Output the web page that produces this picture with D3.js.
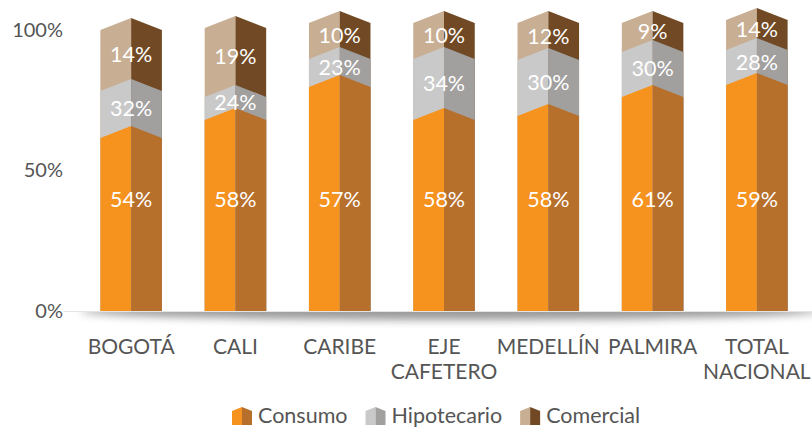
<!DOCTYPE html>
<html>
<head>
<meta charset="utf-8">
<script src="https://cdn.jsdelivr.net/npm/d3@7"></script>
<style>
  body { margin: 0; background: #fff; }
  svg text { font-family: Lato, "Open Sans", sans-serif; }
</style>
</head>
<body>
<div class="canvas"></div>
<script>
// regiones (eje x), con salto de linea
var regiones = [["BOGOTÁ"], ["CALI"], ["CARIBE"], ["EJE", "CAFETERO"], ["MEDELLÍN"], ["PALMIRA"], ["TOTAL", "NACIONAL"]];

// alto de cada tramo tal como se ve en el grafico (%)
var consumo     = [61.6, 68.0, 79.7, 68.0, 69.4, 76.2, 80.4];
var hipotecario = [16.7,  8.2, 10.0, 21.7, 19.9, 16.0, 12.5];
var comercial   = [21.7, 24.5, 12.8, 12.8, 13.2, 10.3, 10.7];

// etiquetas de datos que muestra el grafico
var etiConsumo     = ["54%", "58%", "57%", "58%", "58%", "61%", "59%"];
var etiHipotecario = ["32%", "24%", "23%", "34%", "30%", "30%", "28%"];
var etiComercial   = ["14%", "19%", "10%", "10%", "12%", "9%", "14%"];

// eje y
var yTicks = [0, 50, 100];
var yTickLabels = ["0%", "50%", "100%"];

var series = ["Consumo", "Hipotecario", "Comercial"];

var width = 812, height = 429;
var pico = 12; // altura del pico de cada tramo
var colores = {
  Consumo:     ["#f6921e", "#b76f2c"],
  Hipotecario: ["#c9c9c9", "#a1a09f"],
  Comercial:   ["#c8ae93", "#714a25"]
};

var svg = d3.select(".canvas").append("svg")
  .attr("width", width)
  .attr("height", height);

var x = d3.scaleBand()
  .domain(d3.range(regiones.length))
  .range([79, 809])
  .paddingInner(0.41)
  .paddingOuter(0.205);

var y = d3.scaleLinear()
  .domain([0, 100])
  .range([311, 30]);

// sombra del piso
var defs = svg.append("defs");
defs.append("filter").attr("id", "blur")
  .attr("x", "-20%").attr("y", "-200%").attr("width", "140%").attr("height", "500%")
  .append("feGaussianBlur").attr("stdDeviation", 4);
defs.append("clipPath").attr("id", "piso")
  .append("rect").attr("x", 0).attr("y", y(0)).attr("width", width).attr("height", 40);

svg.append("ellipse")
  .attr("cx", 450).attr("cy", y(0))
  .attr("rx", 370).attr("ry", 9)
  .attr("fill", "#707070")
  .attr("opacity", 0.7)
  .attr("filter", "url(#blur)")
  .attr("clip-path", "url(#piso)");

svg.append("line")
  .attr("x1", 64).attr("x2", width)
  .attr("y1", y(0) + 0.5).attr("y2", y(0) + 0.5)
  .attr("stroke", "#e4e4e4");

// eje y
var axisy = d3.axisLeft(y)
  .tickValues(yTicks)
  .tickSize(0)
  .tickPadding(0)
  .tickFormat(function(d, i) { return yTickLabels[i]; });

svg.append("g")
  .attr("transform", "translate(63,0)")
  .call(axisy)
  .call(function(g) { g.select(".domain").remove(); })
  .selectAll("text")
    .attr("font-family", "Lato, sans-serif")
    .attr("font-size", 20)
    .attr("fill", "#555");

// acumulados: cada capa va desde 0 hasta su tope
var capas = [
  { name: "Comercial",   top: consumo.map(function(v, i) { return v + hipotecario[i] + comercial[i]; }) },
  { name: "Hipotecario", top: consumo.map(function(v, i) { return v + hipotecario[i]; }) },
  { name: "Consumo",     top: consumo.slice() }
];

function caraIzq(i, t) {
  var x0 = x(i), xm = x(i) + x.bandwidth() / 2;
  return [[x0, y(0)], [xm, y(0)], [xm, y(t) - pico], [x0, y(t)]];
}
function caraDer(i, t) {
  var x1 = x(i) + x.bandwidth(), xm = x(i) + x.bandwidth() / 2;
  return [[xm, y(0)], [x1, y(0)], [x1, y(t)], [xm, y(t) - pico]];
}

capas.forEach(function(c) {
  var g = svg.append("g").attr("class", "capa-" + c.name);
  g.selectAll("polygon.izq")
    .data(c.top).enter()
    .append("polygon")
      .attr("points", function(d, i) { return caraIzq(i, d).join(" "); })
      .attr("fill", colores[c.name][0]);
  g.selectAll("polygon.der")
    .data(c.top).enter()
    .append("polygon")
      .attr("points", function(d, i) { return caraDer(i, d).join(" "); })
      .attr("fill", colores[c.name][1]);
});

// etiquetas de datos
var etiquetas = [];
consumo.forEach(function(v, i) {
  var h = v + hipotecario[i];
  var t = h + comercial[i];
  etiquetas.push({ i: i, t: etiConsumo[i], y: y(40) });
  etiquetas.push({ i: i, t: etiHipotecario[i], y: (y(v) + y(h)) / 2 - pico / 2 });
  etiquetas.push({ i: i, t: etiComercial[i], y: (y(h) + y(t)) / 2 - pico / 2 });
});

svg.selectAll("text.dato")
  .data(etiquetas).enter()
  .append("text")
    .attr("class", "dato")
    .attr("x", function(d) { return x(d.i) + x.bandwidth() / 2; })
    .attr("y", function(d) { return d.y; })
    .attr("text-anchor", "middle")
    .attr("dominant-baseline", "central")
    .attr("font-size", 21.5)
    .attr("fill", "#fff")
    .text(function(d) { return d.t; });

// eje x
var xl = svg.selectAll("text.region")
  .data(regiones).enter()
  .append("text")
    .attr("class", "region")
    .attr("text-anchor", "middle")
    .attr("font-size", 21)
    .attr("fill", "#555");
xl.selectAll("tspan")
  .data(function(d, i) { return d.map(function(s) { return { s: s, i: i }; }); })
  .enter().append("tspan")
    .attr("x", function(d) { return x(d.i) + x.bandwidth() / 2; })
    .attr("y", function(d, j) { return 354 + j * 25; })
    .text(function(d) { return d.s; });

// leyenda
var leyenda = svg.append("g").attr("transform", "translate(232,0)");
var lx = 0;
series.forEach(function(s) {
  var g = leyenda.append("g").attr("transform", "translate(" + lx + ",0)");
  g.append("polygon").attr("points", "0,411 10,407 10,425 0,425").attr("fill", colores[s][0]);
  g.append("polygon").attr("points", "10,407 20,411 20,425 10,425").attr("fill", colores[s][1]);
  var t = g.append("text")
    .attr("x", 26).attr("y", 423)
    .attr("font-size", 21.5)
    .attr("fill", "#555")
    .text(s);
  lx += 26 + t.node().getComputedTextLength() + 18;
});
</script>
</body>
</html>
